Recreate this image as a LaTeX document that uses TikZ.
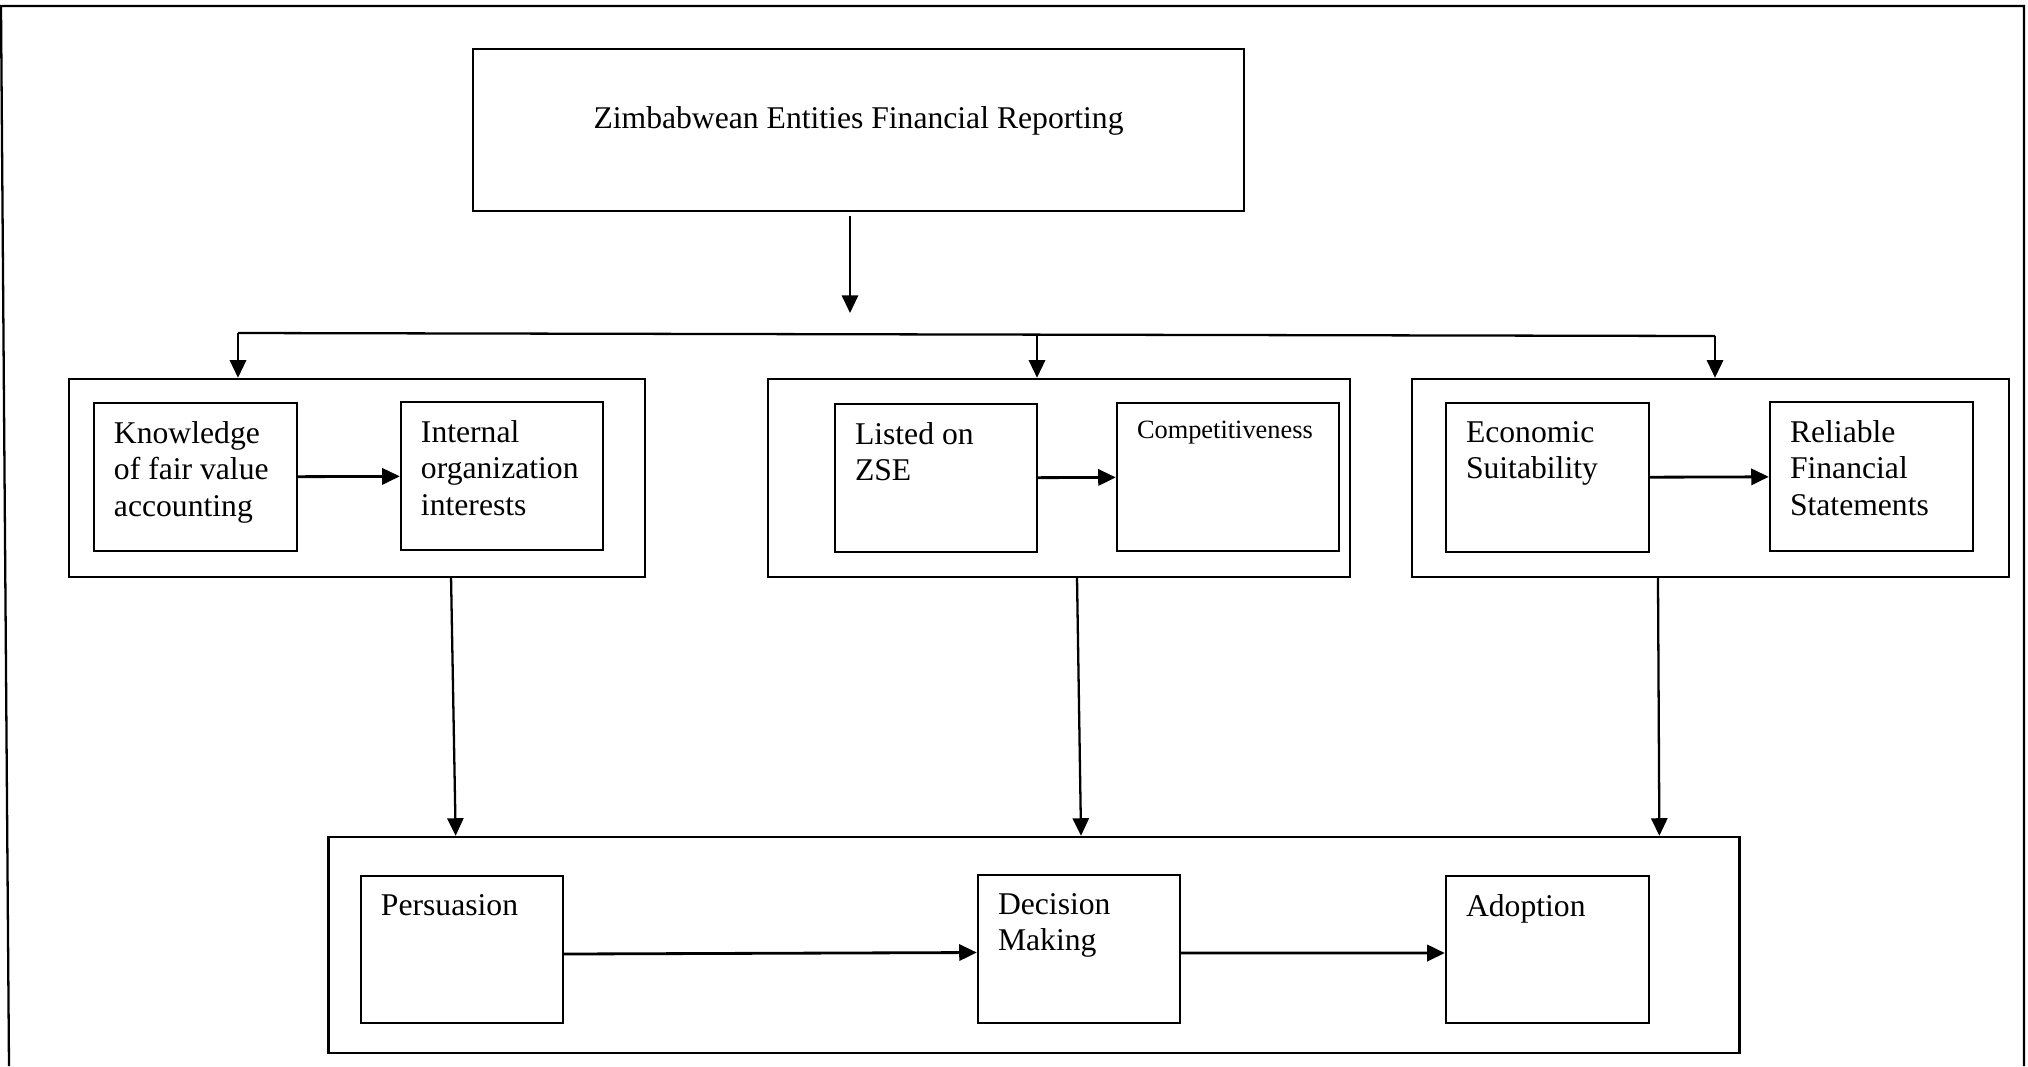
\documentclass[tikz,border=0pt]{standalone}
\usepackage{fontspec}
\setmainfont{Liberation Serif}
\usetikzlibrary{arrows.meta}

\begin{document}
\begin{tikzpicture}[x=0.01cm,y=-0.01cm,line width=0.65pt,
  box/.style={draw, rectangle, inner sep=0pt},
  txt/.style={anchor=north west, align=left, inner xsep=5.7pt, inner ysep=5.2pt, font=\fontsize{9}{10.4}\selectfont},
  arr/.style={-{Triangle[length=5pt,width=4.6pt]}}]
\useasboundingbox (0,0) rectangle (2028,1066);
% page frame, open at the bottom
\draw (9,1066) -- (1,6) -- (2024,6) -- (2024,1066);

\node[box, minimum width=7.71cm, minimum height=1.62cm, label={[txt,anchor=north,yshift=-0.39cm]north:Zimbabwean Entities Financial Reporting}] (top) at (858.5,130) {};

% three groups
\node[box, minimum width=5.76cm, minimum height=1.98cm] (g1) at (357,478) {};
\node[box, minimum width=5.82cm, minimum height=1.98cm] (g2) at (1059,478) {};
\node[box, minimum width=5.97cm, minimum height=1.98cm] (g3) at (1710.5,478) {};

\node[box, minimum width=2.03cm, minimum height=1.48cm, label={[txt]north west:{Knowledge\\of fair value\\accounting}}] (know) at (195.5,477) {};
\node[box, minimum width=2.02cm, minimum height=1.48cm, label={[txt]north west:{Internal\\organization\\interests}}] (intr) at (502,476) {};
\node[box, minimum width=2.02cm, minimum height=1.48cm, label={[txt]north west:{Listed on\\ZSE}}] (zse) at (936,478) {};
\node[box, minimum width=2.22cm, minimum height=1.48cm, label={[txt,font=\fontsize{7.5}{8.6}\selectfont]north west:Competitiveness}] (comp) at (1228,477) {};
\node[box, minimum width=2.03cm, minimum height=1.49cm, label={[txt]north west:{Economic\\Suitability}}] (econ) at (1547.5,477.5) {};
\node[box, minimum width=2.03cm, minimum height=1.49cm, label={[txt]north west:{Reliable\\Financial\\Statements}}] (rel) at (1871.5,476.5) {};

% bottom group
\node[box, minimum width=14.10cm, minimum height=2.16cm] (bot) at (1034,945) {};
\node[box, minimum width=2.02cm, minimum height=1.47cm, label={[txt]north west:Persuasion}] (pers) at (462,949.5) {};
\node[box, minimum width=2.02cm, minimum height=1.48cm, label={[txt]north west:{Decision\\Making}}] (dec) at (1079,949) {};
\node[box, minimum width=2.03cm, minimum height=1.47cm, label={[txt]north west:Adoption}] (adop) at (1547.5,949.5) {};

% branching line
\coordinate (t1) at (850,313);
\coordinate (j1) at (238,333);
\coordinate (j2) at (1037,334.5);
\coordinate (j3) at (1715,336);

\draw[arr, shorten <=1pt] (top.south -| t1) -- (t1);
\draw (j1) -- (j3);
\draw[arr] (j1) -- (j1 |- g1.north);
\draw[arr] (j2) -- (j2 |- g2.north);
\draw[arr] (j3) -- (j3 |- g3.north);

\draw[arr, line width=0.8pt] (know) -- (intr);
\draw[arr, line width=0.8pt] (zse) -- (comp);
\draw[arr, line width=0.8pt] (econ) -- (rel);

\draw[arr] ([xshift=0.94cm]g1.south) -- ([xshift=-5.78cm]bot.north);
\draw[arr] ([xshift=0.18cm]g2.south) -- ([xshift=0.47cm]bot.north);
\draw[arr] ([xshift=-0.525cm]g3.south) -- ([xshift=6.25cm]bot.north);

\draw[arr, line width=0.8pt] ([yshift=-0.045cm]pers.east) -- ([yshift=-0.035cm]dec.west);
\draw[arr, line width=0.8pt] ([yshift=-0.04cm]dec.east) -- ([yshift=-0.035cm]adop.west);
\end{tikzpicture}
\end{document}
